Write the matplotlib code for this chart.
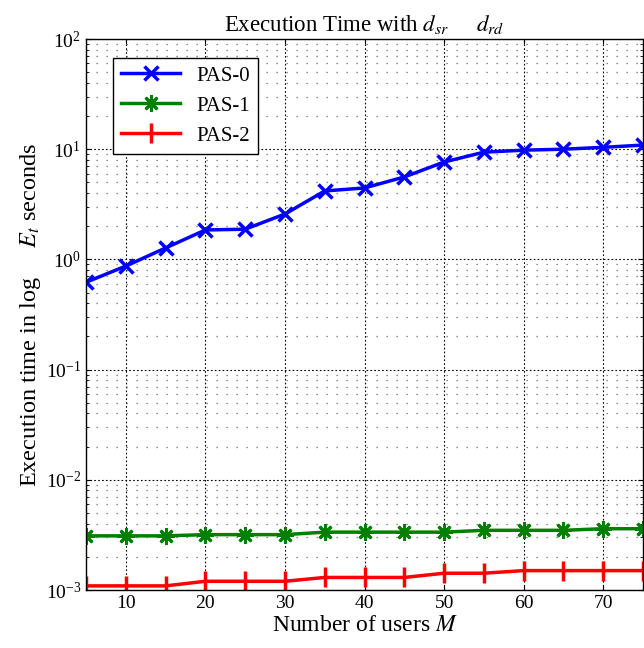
import numpy as np
import matplotlib
matplotlib.use('Agg')
import matplotlib.pyplot as plt
from matplotlib.ticker import LogLocator, NullFormatter

plt.rcParams['font.family'] = ['Liberation Serif', 'DejaVu Serif']
plt.rcParams['mathtext.fontset'] = 'stix'

# data
users = [5, 10, 15, 20, 25, 30, 35, 40, 45, 50, 55, 60, 65, 70, 75]
pas0 = [0.62, 0.87, 1.27, 1.85, 1.88, 2.58, 4.18, 4.45, 5.6, 7.65, 9.4, 9.8, 10.0, 10.4, 10.9]
pas1 = [0.0031, 0.0031, 0.0031, 0.00318, 0.00318, 0.00318, 0.00335, 0.00335, 0.00335,
        0.00335, 0.00348, 0.00348, 0.00348, 0.0036, 0.0036]
pas2 = [0.00109, 0.00109, 0.00109, 0.0012, 0.0012, 0.0012, 0.0013, 0.0013, 0.0013,
        0.00142, 0.00142, 0.0015, 0.0015, 0.0015, 0.0015]
x_ticks = [10, 20, 30, 40, 50, 60, 70]

fig = plt.figure(figsize=(6.44, 6.48), dpi=100)
ax = fig.add_axes([0.1335, 0.0895, 0.865, 0.8503])

ax.semilogy(users, pas0, color='#0000ff', lw=2.5, marker='x', ms=10, mew=2.5, label='PAS-0')
ax.semilogy(users, pas1, color='#008000', lw=2.5, marker=(8, 2, 0), ms=12, mew=2.0, label='PAS-1')
ax.semilogy(users, pas2, color='#ff0000', lw=2.5, marker='|', ms=14, mew=2.5, label='PAS-2')

ax.set_xlim(5, 75)
ax.set_ylim(1e-3, 1e2)
ax.set_xticks(x_ticks)
ax.yaxis.set_major_locator(LogLocator(base=10, numticks=10))
ax.yaxis.set_minor_locator(LogLocator(base=10, subs=np.arange(2, 10), numticks=10))
ax.yaxis.set_minor_formatter(NullFormatter())

ax.grid(True, which='major', linestyle=(0, (1.5, 2.0)), color='black', lw=0.8)
ax.grid(True, which='minor', axis='y', linestyle=(0, (1, 7)), color='#666666', lw=0.9)
ax.tick_params(direction='in', which='both', top=True, right=True, labelsize=14)

ax.set_title(r'Execution Time with $d_{sr}$     $d_{rd}$', fontsize=16.5, pad=6)
ax.set_xlabel(r'Number of users $M$', fontsize=17, labelpad=2)
ax.set_ylabel(r'Execution time in log     $E_t$ seconds', fontsize=17.5, labelpad=2)

leg = ax.legend(loc='upper left', bbox_to_anchor=(0.03, 0.985), fontsize=15, fancybox=False,
                edgecolor='black', framealpha=1, handlelength=2.8, borderpad=0.4, labelspacing=0.5)
leg.get_frame().set_linewidth(1.0)

for s in ax.spines.values():
    s.set_linewidth(1.0)

plt.savefig('out.png', dpi=100)
plt.close(fig)
